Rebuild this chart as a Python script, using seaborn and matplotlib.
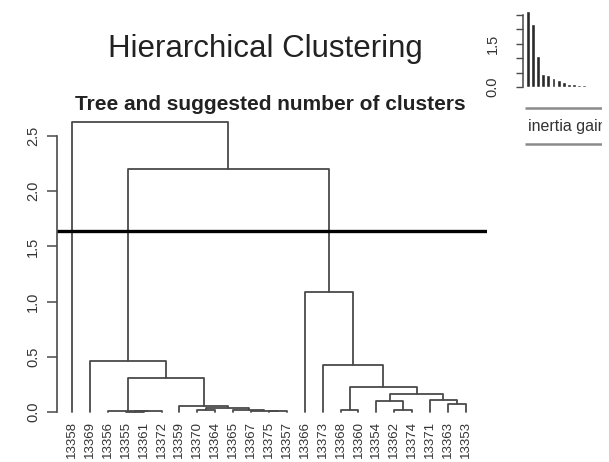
import numpy as np
import pandas as pd
import matplotlib
matplotlib.use("Agg")
import matplotlib.pyplot as plt
import seaborn as sns

# leaves in the order they appear along the tree
leaf_labels = ["13358", "13369", "13356", "13355", "13361", "13372", "13359",
               "13370", "13364", "13365", "13367", "13375", "13357", "13366",
               "13373", "13368", "13360", "13354", "13362", "13374", "13371",
               "13363", "13353"]

# merges: node ids < 23 are leaves, node 23 + k is merge k
merge_left = [3, 23, 2, 11, 10, 9, 7, 29, 6, 25, 1,
              15, 18, 17, 21, 20, 36, 34, 14, 13, 33, 0]
merge_right = [4, 5, 24, 12, 26, 27, 8, 28, 30, 31, 32,
               16, 19, 35, 22, 37, 38, 39, 40, 41, 42, 43]
merge_height = [0.004, 0.008, 0.012, 0.005, 0.012, 0.02, 0.018, 0.035, 0.055, 0.31, 0.46,
                0.02, 0.02, 0.10, 0.07, 0.11, 0.16, 0.23, 0.43, 1.09, 2.20, 2.63]

cut_height = 1.64

# inertia gain shown in the small bar chart
gain_values = [2.63, 2.20, 1.09, 0.46, 0.43, 0.31, 0.23, 0.16, 0.11,
               0.10, 0.07, 0.055, 0.035, 0.02, 0.02]
gain_ticks = [0.0, 0.5, 1.0, 1.5, 2.0, 2.5]
gain_tick_labels = ["0.0", "", "", "1.5", "", ""]

sns.set_style("white")
plt.rcParams["font.family"] = ["Liberation Sans", "DejaVu Sans"]

W, H = 609, 462
fig = plt.figure(figsize=(W / 100, H / 100), dpi=100)


def frac(x0, y0, x1, y1):
    # pixel box (top-left origin) -> figure fraction rect
    return [x0 / W, 1 - y1 / H, (x1 - x0) / W, (y1 - y0) / H]


# build the U-shaped segments of the dendrogram
n = len(leaf_labels)
node_x = {i: float(i) for i in range(n)}
node_h = {i: 0.0 for i in range(n)}
rows = []
for k, (a, b, h) in enumerate(zip(merge_left, merge_right, merge_height)):
    nid = n + k
    node_x[nid] = (node_x[a] + node_x[b]) / 2
    node_h[nid] = h
    pts = [(node_x[a], node_h[a]), (node_x[a], h), (node_x[b], h), (node_x[b], node_h[b])]
    for x, y in pts:
        rows.append({"seg": k, "x": x, "y": y})
seg_df = pd.DataFrame(rows)

line_col = "#4a4a4a"

ax = fig.add_axes(frac(57, 110, 487, 424))
sns.lineplot(data=seg_df, x="x", y="y", units="seg", estimator=None, sort=False,
             color=line_col, linewidth=1.3, ax=ax, legend=False)
ax.axhline(cut_height, color="black", linewidth=2.4)
ax.set_xlim(-0.84, 23.18)
ax.set_ylim(-0.109, 2.736)
for s in ["top", "right", "bottom"]:
    ax.spines[s].set_visible(False)
ax.spines["left"].set_bounds(0, 2.5)
ax.spines["left"].set_color(line_col)
ax.spines["left"].set_linewidth(1.2)
ax.set_yticks([0.0, 0.5, 1.0, 1.5, 2.0, 2.5])
ax.set_yticklabels(["0.0", "0.5", "1.0", "1.5", "2.0", "2.5"], rotation=90, va="center")
ax.tick_params(axis="y", length=7, width=1.1, color=line_col, pad=5,
               labelsize=10.5, labelcolor="#333333", left=True)
ax.set_xticks(range(n))
ax.set_xticklabels(leaf_labels, rotation=90)
ax.tick_params(axis="x", length=0, pad=-2, labelsize=9.5, labelcolor="#333333")
ax.set_xlabel("")
ax.set_ylabel("")

fig.text(270 / W, 1 - 110 / H, "Tree and suggested number of clusters", ha="center",
         va="baseline", fontsize=15, fontweight="bold", color="#222222")
fig.text(265 / W, 1 - 57 / H, "Hierarchical Clustering", ha="center", va="baseline",
         fontsize=22.5, color="#222222")

# inset: inertia gain bars
iax = fig.add_axes(frac(523, 3, 603, 87))
sns.barplot(x=list(range(len(gain_values))), y=gain_values, color="#2a2a2a",
            width=0.75, ax=iax, saturation=1)
iax.set_xlim(-0.9, len(gain_values) - 0.4)
iax.set_ylim(0, 2.917)
for s in ["top", "right", "bottom"]:
    iax.spines[s].set_visible(False)
iax.spines["left"].set_bounds(0, 2.5)
iax.spines["left"].set_color(line_col)
iax.spines["left"].set_linewidth(1.1)
iax.set_xticks([])
iax.set_yticks(gain_ticks)
iax.set_yticklabels(gain_tick_labels, rotation=90, va="center")
iax.tick_params(axis="y", length=5, width=1, color=line_col, pad=12,
                labelsize=10.5, labelcolor="#333333", left=True)
iax.set_xlabel("")
iax.set_ylabel("")

# clipped legend box under the inset
lax = fig.add_axes(frac(523, 100, 602, 152))
lax.set_xlim(0, 1)
lax.set_ylim(152, 100)
lax.axis("off")
lax.hlines([108, 144], 0.03, 1, color="#8a8a8a", linewidth=1.8)
t = lax.text(0.06, 127, "inertia gain", ha="left", va="center", fontsize=11.5,
             color="#333333")
t.set_clip_on(True)
t.set_clip_box(lax.bbox)

fig.savefig("out.png", dpi=100)
